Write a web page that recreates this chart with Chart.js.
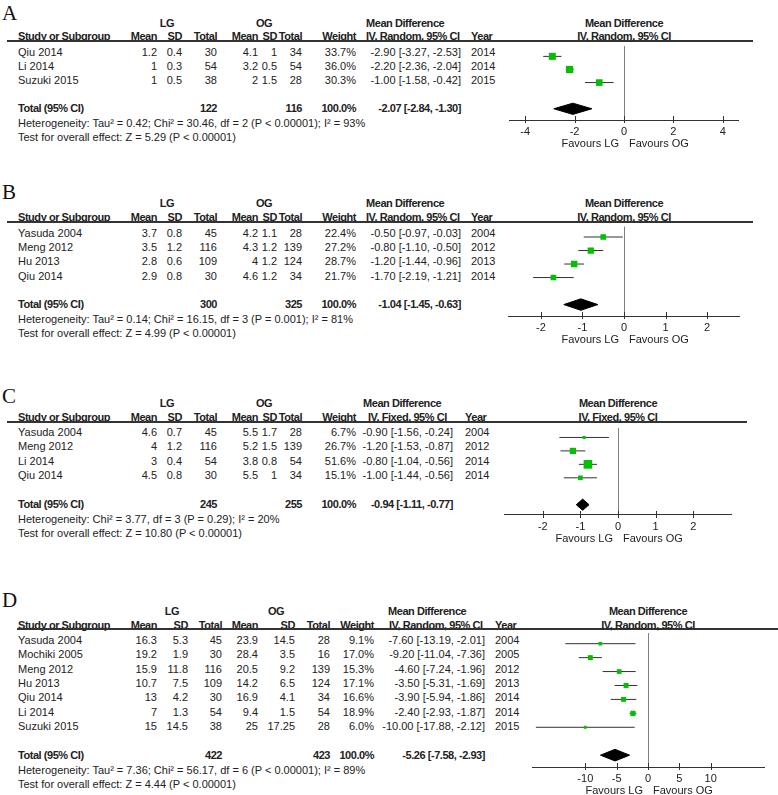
<!DOCTYPE html>
<html>
<head>
<meta charset="utf-8">
<script src="https://cdn.jsdelivr.net/npm/chart.js@4.4.0/dist/chart.umd.min.js"></script>
<style>
  body { margin: 0; width: 778px; height: 795px; background: #fff; position: relative; overflow: hidden;
         font-family: "Liberation Sans", Arial, sans-serif; font-size: 11px; color: #222; }
  .t { position: absolute; height: 14px; line-height: 14px; white-space: nowrap; }
  .b { font-weight: bold; letter-spacing: -0.45px; }
  .letter { position: absolute; font-family: "Liberation Serif", "Times New Roman", serif; font-size: 21px; line-height: 21px; color: #111; }
  .hl { position: absolute; height: 2px; background: #333; }
  canvas { position: absolute; }
</style>
</head>
<body>
<script>
// ---- data ----
const favours = ['Favours LG', 'Favours OG'];

// A
const studiesA = ['Qiu 2014', 'Li 2014', 'Suzuki 2015'];
const lgMeanA = [1.2, 1, 1], lgSdA = [0.4, 0.3, 0.5], lgNA = [30, 54, 38];
const ogMeanA = [4.1, 3.2, 2], ogSdA = [1, 0.5, 1.5], ogNA = [34, 54, 28];
const weightA = [33.7, 36.0, 30.3];
const mdA = [-2.90, -2.20, -1.00], loA = [-3.27, -2.36, -1.58], hiA = [-2.53, -2.04, -0.42];
const yearA = [2014, 2014, 2015];
const totalNA = [122, 116], totalA = [-2.07, -2.84, -1.30];
const hetA = 'Heterogeneity: Tau² = 0.42; Chi² = 30.46, df = 2 (P < 0.00001); I² = 93%';
const testA = 'Test for overall effect: Z = 5.29 (P < 0.00001)';
const ticksA = [-4, -2, 0, 2, 4];

// B
const studiesB = ['Yasuda 2004', 'Meng 2012', 'Hu 2013', 'Qiu 2014'];
const lgMeanB = [3.7, 3.5, 2.8, 2.9], lgSdB = [0.8, 1.2, 0.6, 0.8], lgNB = [45, 116, 109, 30];
const ogMeanB = [4.2, 4.3, 4, 4.6], ogSdB = [1.1, 1.2, 1.2, 1.2], ogNB = [28, 139, 124, 34];
const weightB = [22.4, 27.2, 28.7, 21.7];
const mdB = [-0.50, -0.80, -1.20, -1.70], loB = [-0.97, -1.10, -1.44, -2.19], hiB = [-0.03, -0.50, -0.96, -1.21];
const yearB = [2004, 2012, 2013, 2014];
const totalNB = [300, 325], totalB = [-1.04, -1.45, -0.63];
const hetB = 'Heterogeneity: Tau² = 0.14; Chi² = 16.15, df = 3 (P = 0.001); I² = 81%';
const testB = 'Test for overall effect: Z = 4.99 (P < 0.00001)';
const ticksB = [-2, -1, 0, 1, 2];

// C
const studiesC = ['Yasuda 2004', 'Meng 2012', 'Li 2014', 'Qiu 2014'];
const lgMeanC = [4.6, 4, 3, 4.5], lgSdC = [0.7, 1.2, 0.4, 0.8], lgNC = [45, 116, 54, 30];
const ogMeanC = [5.5, 5.2, 3.8, 5.5], ogSdC = [1.7, 1.5, 0.8, 1], ogNC = [28, 139, 54, 34];
const weightC = [6.7, 26.7, 51.6, 15.1];
const mdC = [-0.90, -1.20, -0.80, -1.00], loC = [-1.56, -1.53, -1.04, -1.44], hiC = [-0.24, -0.87, -0.56, -0.56];
const yearC = [2004, 2012, 2014, 2014];
const totalNC = [245, 255], totalC = [-0.94, -1.11, -0.77];
const hetC = 'Heterogeneity: Chi² = 3.77, df = 3 (P = 0.29); I² = 20%';
const testC = 'Test for overall effect: Z = 10.80 (P < 0.00001)';
const ticksC = [-2, -1, 0, 1, 2];

// D
const studiesD = ['Yasuda 2004', 'Mochiki 2005', 'Meng 2012', 'Hu 2013', 'Qiu 2014', 'Li 2014', 'Suzuki 2015'];
const lgMeanD = [16.3, 19.2, 15.9, 10.7, 13, 7, 15], lgSdD = [5.3, 1.9, 11.8, 7.5, 4.2, 1.3, 14.5], lgND = [45, 30, 116, 109, 30, 54, 38];
const ogMeanD = [23.9, 28.4, 20.5, 14.2, 16.9, 9.4, 25], ogSdD = [14.5, 3.5, 9.2, 6.5, 4.1, 1.5, 17.25], ogND = [28, 16, 139, 124, 34, 54, 28];
const weightD = [9.1, 17.0, 15.3, 17.1, 16.6, 18.9, 6.0];
const mdD = [-7.60, -9.20, -4.60, -3.50, -3.90, -2.40, -10.00];
const loD = [-13.19, -11.04, -7.24, -5.31, -5.94, -2.93, -17.88];
const hiD = [-2.01, -7.36, -1.96, -1.69, -1.86, -1.87, -2.12];
const yearD = [2004, 2005, 2012, 2013, 2014, 2014, 2015];
const totalND = [422, 423], totalD = [-5.26, -7.58, -2.93];
const hetD = 'Heterogeneity: Tau² = 7.36; Chi² = 56.17, df = 6 (P < 0.00001); I² = 89%';
const testD = 'Test for overall effect: Z = 4.44 (P < 0.00001)';
const ticksD = [-10, -5, 0, 5, 10];

// ---- layout (pixel positions per panel) ----
const colsABC = [157, 182, 217, 258, 277, 302, 356];
const colsD = [157, 188, 222, 258, 295, 330, 374];

const panels = [
  { letter: 'A', model: 'IV, Random, 95% CI', studies: studiesA, lgMean: lgMeanA, lgSd: lgSdA, lgN: lgNA,
    ogMean: ogMeanA, ogSd: ogSdA, ogN: ogNA, weight: weightA, md: mdA, lo: loA, hi: hiA, year: yearA,
    totalN: totalNA, total: totalA, het: hetA, test: testA, ticks: ticksA, range: 4.65,
    L: { letterY: 19, groupY: 23, headY: 36, lineY: 41, lineX: [7, 753], rowY: 52, sp: 14, cols: colsABC,
         lgX: 167, ogX: 264, mdHeadX: 366, ivHeadX: 366, mdRight: 461, yearX: 471, axis: [504, 744], axisY: 120 } },
  { letter: 'B', model: 'IV, Random, 95% CI', studies: studiesB, lgMean: lgMeanB, lgSd: lgSdB, lgN: lgNB,
    ogMean: ogMeanB, ogSd: ogSdB, ogN: ogNB, weight: weightB, md: mdB, lo: loB, hi: hiB, year: yearB,
    totalN: totalNB, total: totalB, het: hetB, test: testB, ticks: ticksB, range: 2.78,
    L: { letterY: 198, groupY: 203, headY: 217, lineY: 222, lineX: [7, 753], rowY: 233, sp: 14.2, cols: colsABC,
         lgX: 167, ogX: 264, mdHeadX: 366, ivHeadX: 366, mdRight: 461, yearX: 471, axis: [504, 744], axisY: 316 } },
  { letter: 'C', model: 'IV, Fixed, 95% CI', studies: studiesC, lgMean: lgMeanC, lgSd: lgSdC, lgN: lgNC,
    ogMean: ogMeanC, ogSd: ogSdC, ogN: ogNC, weight: weightC, md: mdC, lo: loC, hi: hiC, year: yearC,
    totalN: totalNC, total: totalC, het: hetC, test: testC, ticks: ticksC, range: 3.03,
    L: { letterY: 402, groupY: 403, headY: 417, lineY: 422, lineX: [7, 747], rowY: 432, sp: 14.4, cols: colsABC,
         lgX: 167, ogX: 264, mdHeadX: 363, ivHeadX: 368, mdRight: 453, yearX: 465, axis: [498, 738], axisY: 515 } },
  { letter: 'D', model: 'IV, Random, 95% CI', studies: studiesD, lgMean: lgMeanD, lgSd: lgSdD, lgN: lgND,
    ogMean: ogMeanD, ogSd: ogSdD, ogN: ogND, weight: weightD, md: mdD, lo: loD, hi: hiD, year: yearD,
    totalN: totalND, total: totalD, het: hetD, test: testD, ticks: ticksD, range: 18.5,
    L: { letterY: 606, groupY: 611, headY: 625, lineY: 629, lineX: [17, 778], rowY: 640, sp: 14.35, cols: colsD,
         lgX: 172, ogX: 276, mdHeadX: 388, ivHeadX: 389, mdRight: 485, yearX: 495, axis: [528, 768], axisY: 767 } }
];

// ---- helpers ----
function txt(x, y, s, align, bold) {
  const d = document.createElement('div');
  d.className = 't' + (bold ? ' b' : '');
  d.textContent = s;
  d.style.top = (y - 7) + 'px';
  if (align === 'right') { d.style.left = (x - 300) + 'px'; d.style.width = '300px'; d.style.textAlign = 'right'; }
  else if (align === 'center') { d.style.left = (x - 150) + 'px'; d.style.width = '300px'; d.style.textAlign = 'center'; }
  else { d.style.left = x + 'px'; }
  document.body.appendChild(d);
}
const fmtMD = (m, l, h) => `${m.toFixed(2)} [${l.toFixed(2)}, ${h.toFixed(2)}]`;

const forestDeco = {
  id: 'forestDeco',
  afterDraw(chart) {
    const { ctx, chartArea, scales: { x } } = chart;
    const y0 = chartArea.bottom;
    ctx.save();
    ctx.strokeStyle = '#333';
    ctx.lineWidth = 1;
    x.ticks.forEach(t => {
      const px = Math.round(x.getPixelForValue(t.value)) + 0.5;
      ctx.beginPath();
      ctx.moveTo(px, y0 - 4);
      ctx.lineTo(px, y0 + 3);
      ctx.stroke();
    });
    const z = x.getPixelForValue(0);
    ctx.fillStyle = '#222';
    ctx.font = '11px "Liberation Sans", Arial, sans-serif';
    ctx.textBaseline = 'middle';
    ctx.textAlign = 'right';
    ctx.fillText(favours[0], z - 5, y0 + 24);
    ctx.textAlign = 'left';
    ctx.fillText(favours[1], z + 5, y0 + 24);
    ctx.restore();
  }
};

function buildTable(p) {
  const L = p.L, c = L.cols, n = p.studies.length;
  const let_ = document.createElement('div');
  let_.className = 'letter';
  let_.textContent = p.letter;
  let_.style.left = '2px';
  let_.style.top = (L.letterY - 16) + 'px';
  document.body.appendChild(let_);

  txt(L.lgX, L.groupY, 'LG', 'center', true);
  txt(L.ogX, L.groupY, 'OG', 'center', true);
  txt(L.mdHeadX, L.groupY, 'Mean Difference', 'left', true);

  txt(18, L.headY, 'Study or Subgroup', 'left', true);
  ['Mean', 'SD', 'Total', 'Mean', 'SD', 'Total', 'Weight'].forEach((h, k) => txt(c[k], L.headY, h, 'right', true));
  txt(L.ivHeadX, L.headY, p.model, 'left', true);
  txt(L.yearX, L.headY, 'Year', 'left', true);

  const hl = document.createElement('div');
  hl.className = 'hl';
  hl.style.left = L.lineX[0] + 'px';
  hl.style.width = (L.lineX[1] - L.lineX[0]) + 'px';
  hl.style.top = (L.lineY - 1) + 'px';
  document.body.appendChild(hl);

  p.studies.forEach((s, i) => {
    const y = L.rowY + i * L.sp;
    txt(18, y, s, 'left');
    const vals = [p.lgMean[i], p.lgSd[i], p.lgN[i], p.ogMean[i], p.ogSd[i], p.ogN[i]];
    vals.forEach((v, k) => txt(c[k], y, String(v), 'right'));
    txt(c[6], y, p.weight[i].toFixed(1) + '%', 'right');
    txt(L.mdRight, y, fmtMD(p.md[i], p.lo[i], p.hi[i]), 'right');
    txt(L.yearX, y, String(p.year[i]), 'left');
  });

  const ty = L.rowY + (n + 1) * L.sp;
  txt(18, ty, 'Total (95% CI)', 'left', true);
  txt(c[2], ty, String(p.totalN[0]), 'right', true);
  txt(c[5], ty, String(p.totalN[1]), 'right', true);
  txt(c[6], ty, '100.0%', 'right', true);
  txt(L.mdRight, ty, fmtMD(p.total[0], p.total[1], p.total[2]), 'right', true);
  txt(18, ty + 15, p.het, 'left');
  txt(18, ty + 29, p.test, 'left');

  const zero = (L.axis[0] + L.axis[1]) / 2;
  txt(zero, L.groupY, 'Mean Difference', 'center', true);
  txt(zero, L.headY, p.model, 'center', true);
}

function buildForest(p) {
  const L = p.L, n = p.studies.length;
  const cv = document.createElement('canvas');
  const w = L.axis[1] - L.axis[0];
  const h = L.axisY - L.lineY + 40;
  cv.width = w; cv.height = h;
  cv.style.left = L.axis[0] + 'px';
  cv.style.top = L.lineY + 'px';
  document.body.appendChild(cv);

  const totalRow = n + 1;
  const yMin = -(L.rowY - L.lineY) / L.sp;
  const yMax = (L.axisY - L.rowY) / L.sp;
  const dh = 6 / L.sp;

  const datasets = [];
  datasets.push({
    data: p.md.map((m, i) => ({ x: m, y: i })),
    pointStyle: 'rect',
    pointRadius: p.weight.map(wt => 1.2 * Math.sqrt(wt) / Math.SQRT2),
    backgroundColor: '#00c000', borderColor: '#00c000', borderWidth: 0,
    showLine: false, order: 0
  });
  datasets.push({
    data: [
      { x: p.total[1], y: totalRow }, { x: p.total[0], y: totalRow - dh },
      { x: p.total[2], y: totalRow }, { x: p.total[0], y: totalRow + dh },
      { x: p.total[1], y: totalRow }
    ],
    showLine: true, fill: 'shape', backgroundColor: '#000', borderColor: '#000', borderWidth: 1,
    pointRadius: 0, tension: 0, order: 1
  });
  p.md.forEach((m, i) => {
    datasets.push({
      data: [{ x: p.lo[i], y: i }, { x: p.hi[i], y: i }],
      showLine: true, borderColor: '#333', borderWidth: 1, pointRadius: 0, order: 2
    });
  });

  new Chart(cv.getContext('2d'), {
    type: 'scatter',
    data: { datasets },
    plugins: [forestDeco],
    options: {
      responsive: false, animation: false, events: [],
      layout: { padding: 0 },
      plugins: { legend: { display: false }, tooltip: { enabled: false } },
      scales: {
        x: {
          type: 'linear', min: -p.range, max: p.range,
          afterBuildTicks: s => { s.ticks = p.ticks.map(v => ({ value: v })); },
          afterFit: s => { s.height = 40; },
          ticks: { autoSkip: false, maxRotation: 0, padding: 5, color: '#222',
                   font: { family: '"Liberation Sans", Arial, sans-serif', size: 11 },
                   callback: v => String(v) },
          grid: { drawTicks: false, lineWidth: 1,
                  color: c => (c.tick && c.tick.value === 0) ? '#808080' : 'rgba(0,0,0,0)' },
          border: { display: true, color: '#333', width: 1 }
        },
        y: { type: 'linear', display: false, reverse: true, min: yMin, max: yMax }
      }
    }
  });
}

panels.forEach(p => { buildTable(p); buildForest(p); });
</script>
</body>
</html>
